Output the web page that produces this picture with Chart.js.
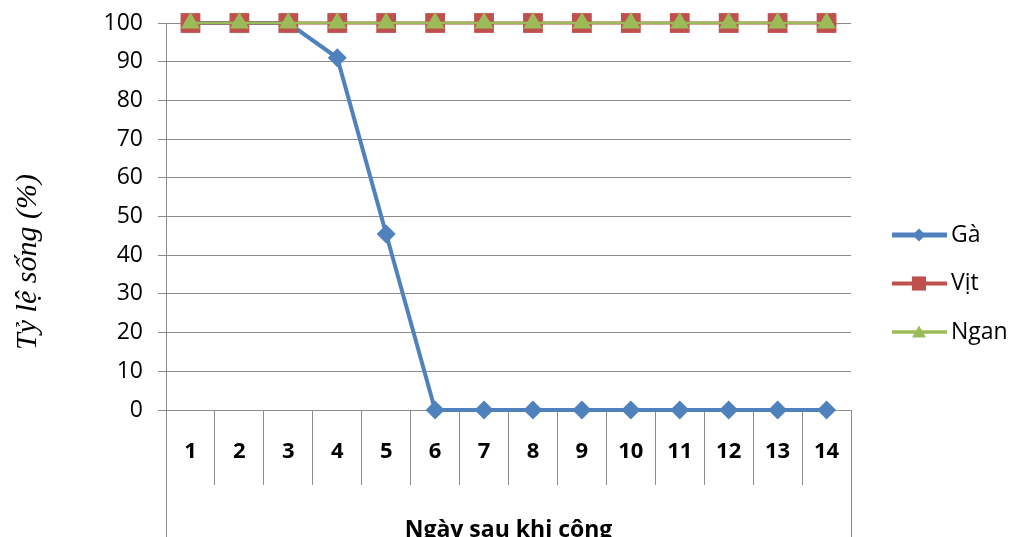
<!DOCTYPE html>
<html>
<head>
<meta charset="utf-8">
<script src="https://cdn.jsdelivr.net/npm/chart.js@4.4.0/dist/chart.umd.min.js"></script>
<style>
  html, body { margin: 0; padding: 0; background: #fff; }
  #wrap { width: 1009px; height: 537px; }
</style>
</head>
<body>
<div id="wrap"><canvas id="songChart" width="1009" height="537"></canvas></div>
<script>
// * du lieu
const ngay = ["1", "2", "3", "4", "5", "6", "7", "8", "9", "10", "11", "12", "13", "14"];
const ga = [100, 100, 100, 91, 45.5, 0, 0, 0, 0, 0, 0, 0, 0, 0];
const vit = [100, 100, 100, 100, 100, 100, 100, 100, 100, 100, 100, 100, 100, 100];
const ngan = [100, 100, 100, 100, 100, 100, 100, 100, 100, 100, 100, 100, 100, 100];
const yTicks = [0, 10, 20, 30, 40, 50, 60, 70, 80, 90, 100];

const gridColor = "#8c8c8c";
const fontFam = "'Open Sans', 'Noto Sans', sans-serif";

const series = [
  { label: "Gà", data: ga, color: "#4F81BD", style: "rectRot", radius: 9.5, legR: 6.5, width: 4, order: 3 },
  { label: "Vịt", data: vit, color: "#C0504D", style: "rect", radius: 14, legR: 10, width: 3, order: 2 },
  { label: "Ngan", data: ngan, color: "#9BBB59", style: "triangle", radius: 11, legR: 8, width: 2.5, order: 1 },
];

// ? ke bang duoi truc x, tieu de truc y + chu giai
const extraPlugin = {
  id: "extra",
  afterDraw(chart) {
    const ctx = chart.ctx;
    const area = chart.chartArea;
    ctx.save();
    ctx.strokeStyle = gridColor;
    ctx.lineWidth = 1;
    [area.left, area.right].forEach((x) => {
      const px = Math.round(x) + 0.5;
      ctx.beginPath();
      ctx.moveTo(px, area.bottom);
      ctx.lineTo(px, chart.height);
      ctx.stroke();
    });

    // y title
    ctx.save();
    ctx.translate(28, 262);
    ctx.rotate(-Math.PI / 2);
    ctx.fillStyle = "#000";
    ctx.font = "italic 30px 'Liberation Serif', 'DejaVu Serif', serif";
    ctx.textAlign = "center";
    ctx.textBaseline = "middle";
    ctx.fillText("Tỷ lệ sống (%)", 0, 0);
    ctx.restore();

    // legend
    const lx = 892;
    let ly = 235;
    series.forEach((s) => {
      ctx.strokeStyle = s.color;
      ctx.lineWidth = s.width + 1;
      ctx.beginPath();
      ctx.moveTo(lx, ly);
      ctx.lineTo(lx + 55, ly);
      ctx.stroke();
      ctx.fillStyle = s.color;
      Chart.helpers.drawPoint(ctx, { pointStyle: s.style, radius: s.legR, borderWidth: 0 }, lx + 27, ly + (s.style === "triangle" ? 1.5 : 0));
      ctx.fillStyle = "#000";
      ctx.font = "23px " + fontFam;
      ctx.textBaseline = "middle";
      ctx.textAlign = "left";
      ctx.fillText(s.label, lx + 59, ly);
      ly += 48.5;
    });
    ctx.restore();
  },
};

const songChart = new Chart(document.getElementById("songChart").getContext("2d"), {
  type: "line",
  data: {
    labels: ngay,
    datasets: series.map((s) => ({
      label: s.label,
      data: s.data,
      borderColor: s.color,
      backgroundColor: s.color,
      borderWidth: s.width,
      pointStyle: s.style,
      pointRadius: s.radius,
      pointBorderWidth: 0,
      pointBackgroundColor: s.color,
      tension: 0,
      order: s.order,
      clip: false,
    })),
  },
  options: {
    responsive: false,
    animation: false,
    maintainAspectRatio: false,
    layout: { padding: { top: 23, right: 158, left: 0, bottom: 0 } },
    plugins: {
      legend: { display: false },
      tooltip: { enabled: false },
    },
    scales: {
      x: {
        offset: true,
        grid: {
          offset: true,
          drawOnChartArea: false,
          drawTicks: true,
          tickLength: 75,
          color: gridColor,
        },
        border: { color: gridColor },
        ticks: {
          color: "#000",
          font: { family: fontFam, size: 22, weight: "bold" },
          padding: -46,
          maxRotation: 0,
          autoSkip: false,
        },
        title: {
          display: true,
          text: "Ngày sau khi công",
          color: "#000",
          font: { family: fontFam, size: 23, weight: "bold" },
          padding: { top: 0, bottom: -7 },
        },
        afterFit(s) {
          s.height = 127;
          s.paddingLeft = 0;
          s.paddingRight = 0;
        },
      },
      y: {
        min: 0,
        max: 100,
        afterBuildTicks(s) {
          s.ticks = yTicks.map((v) => ({ value: v }));
        },
        grid: {
          color: gridColor,
          tickLength: 8,
        },
        border: { color: gridColor },
        ticks: {
          color: "#000",
          font: { family: fontFam, size: 23 },
          padding: 15,
        },
        afterFit(s) {
          s.width = 166;
          s.paddingTop = 0;
          s.paddingBottom = 0;
        },
      },
    },
  },
  plugins: [extraPlugin],
});
</script>
</body>
</html>
